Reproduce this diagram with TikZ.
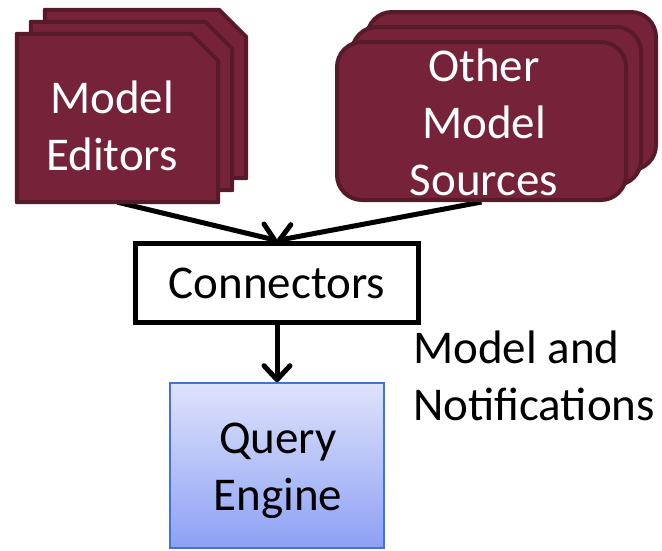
\documentclass[tikz,border=0pt]{standalone}
\usepackage{fontspec}
\setmainfont{Carlito}
\usetikzlibrary{arrows.meta,backgrounds}

\definecolor{maroon}{RGB}{118,35,57}
\definecolor{maroonline}{RGB}{86,26,41}
\definecolor{qtop}{RGB}{222,227,251}
\definecolor{qbottom}{RGB}{141,160,245}
\definecolor{qline}{RGB}{70,112,218}

\tikzset{
  bigtext/.style={font=\fontsize{47pt}{57pt}\selectfont, inner sep=0pt, align=center},
  % invisible frame of an editor card; the snipped outline is drawn from its anchors
  editorframe/.style={rectangle, inner sep=0pt, minimum width=201pt, minimum height=168pt},
  editorfill/.style={draw=maroonline, fill=maroon, line width=4pt, line join=round},
  sourcebox/.style={rectangle, rounded corners=25pt,
    draw=maroonline, fill=maroon, line width=4pt, inner sep=0pt,
    minimum width=289pt, minimum height=158pt},
  plainbox/.style={rectangle, draw=black, fill=white, line width=5pt, inner sep=0pt,
    minimum width=283pt, minimum height=79pt},
  enginebox/.style={rectangle, draw=qline, line width=1.6pt, inner sep=0pt,
    top color=qtop, bottom color=qbottom,
    minimum width=214pt, minimum height=165pt},
  conn/.style={draw=black, line width=5pt,
    -{Straight Barb[length=14pt, width=26pt, line width=5pt, round]}},
}

% snipped-corner outline around a named editor frame
\newcommand\snipcard[1]{%
  \path[editorfill] (#1.south west) -- (#1.north west)
    -- ([xshift=-27pt]#1.north east) -- ([yshift=-27pt]#1.north east)
    -- (#1.south east) -- cycle;}

\begin{document}
\begin{tikzpicture}[x=1pt, y=-1pt]
  \useasboundingbox (0,0) rectangle (662,550);

  % stack of model editors (back to front)
  \node[editorframe] (edback)  at (145.5,94) {};
  \snipcard{edback}
  \node[editorframe] (edmid)   at (131.5,106) {};
  \snipcard{edmid}
  \node[editorframe] (editors) at (117.5,118) {};
  \snipcard{editors}
  \node[bigtext, text=white, anchor=base] (editorstext) at (112,170) {Model\\Editors};

  % stack of other model sources (back to front)
  \node[sourcebox] (srcback) at (511.5,91) {};
  \node[sourcebox] (srcmid)  at (496.5,106) {};
  \node[sourcebox] (sources) at (481.5,121) {};
  \node[bigtext, text=white, anchor=base] (sourcestext) at (484,195) {Other\\Model\\Sources};

  % connectors box
  \node[plainbox] (connectors) at (277,282.5) {};
  \node[bigtext, anchor=base] (connectorstext) at (277,298) {Connectors};

  % query engine
  \node[enginebox] (engine) at (277,465.5) {};
  \node[bigtext, anchor=base] (enginetext) at (278,510) {Query\\Engine};

  % side label
  \node[bigtext, align=left, anchor=base west] (notes) at (413,420) {Model and\\Notifications};

  % connecting arrows, kept beneath the boxes
  \begin{pgfonlayer}{background}
    \draw[conn] (editors.south) -- (connectors.north);
    \draw[conn] (sources.south) -- (connectors.north);
  \end{pgfonlayer}
  \draw[conn] (connectors.south) -- (engine.north);
\end{tikzpicture}
\end{document}
